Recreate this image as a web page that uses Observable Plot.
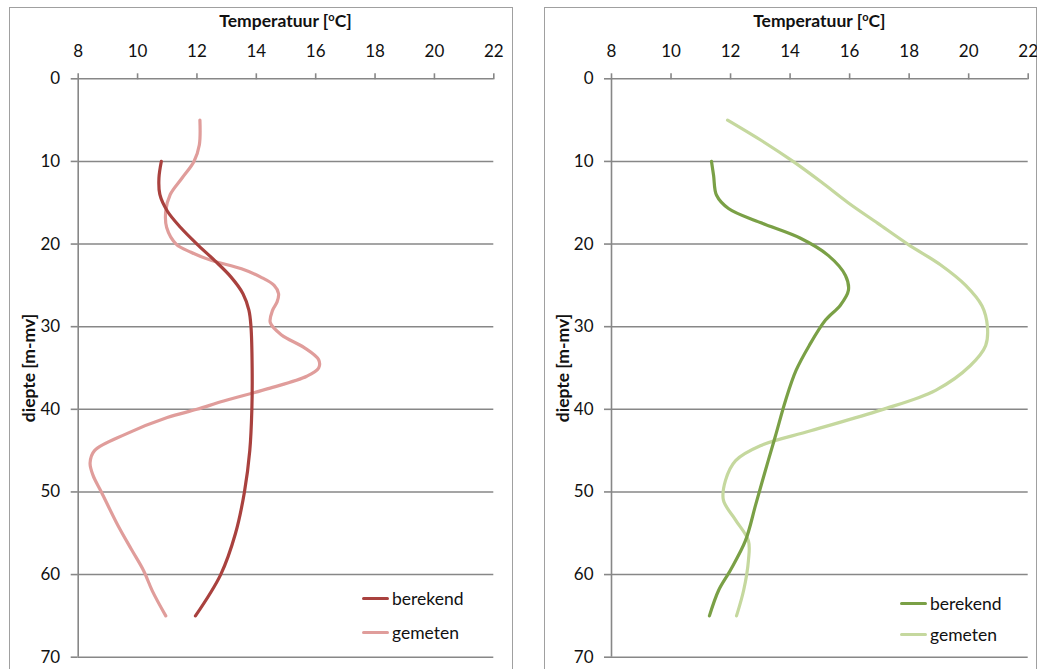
<!DOCTYPE html>
<html>
<head>
<meta charset="utf-8">
<script src="https://cdn.jsdelivr.net/npm/d3@7"></script>
<script src="https://cdn.jsdelivr.net/npm/@observablehq/plot@0.6"></script>
<style>
  html, body { margin: 0; padding: 0; background: #fff; overflow: hidden; }
  body { width: 1039px; height: 669px; position: relative; font-family: Lato, "Open Sans", sans-serif; }
  .frame { position: absolute; border: 1.5px solid #a0a0a0; box-sizing: border-box; }
  .panel { position: absolute; top: 0; }
  .panel svg { background: transparent !important; }
  .title { position: absolute; font-weight: bold; font-size: 17.5px; color: #111; transform: translateX(-50%); white-space: nowrap; }
  .title sup { font-size: 11px; vertical-align: 6px; line-height: 0; }
  .ylab { position: absolute; font-weight: bold; font-size: 17.5px; color: #111; transform: translate(-50%, -50%) rotate(-90deg); white-space: nowrap; }
  .leg { position: absolute; font-size: 17.5px; color: #111; display: flex; align-items: center; white-space: nowrap; }
  .leg .sw { display: inline-block; width: 27px; height: 3px; border-radius: 2px; margin-right: 3px; }
</style>
</head>
<body>
<script>
// ---- data ----
const xTicks = [8, 10, 12, 14, 16, 18, 20, 22];
const yTicks = [0, 10, 20, 30, 40, 50, 60, 70];
const seriesNames = ["berekend", "gemeten"];

// left panel
const leftBerekendDepth = [10, 12, 14, 16, 18, 20, 22, 24, 26, 28, 30, 35, 40, 45, 50, 55, 60, 65];
const leftBerekendTemp  = [10.8, 10.72, 10.75, 11.0, 11.45, 12.0, 12.6, 13.15, 13.55, 13.75, 13.82, 13.86, 13.85, 13.78, 13.6, 13.3, 12.8, 11.95];
const leftGemetenDepth = [5, 8, 10, 12, 14, 16, 18, 20, 21, 22, 23, 24, 25, 26, 27, 28, 29.5, 31, 32.5, 34, 35, 36, 37.5, 39, 40, 41, 43, 45, 46.5, 48, 50, 54, 57, 59.5, 62, 65];
const leftGemetenTemp  = [12.1, 12.08, 11.9, 11.5, 11.1, 10.95, 10.98, 11.3, 11.8, 12.5, 13.5, 14.15, 14.6, 14.75, 14.7, 14.55, 14.47, 14.85, 15.6, 16.1, 16.1, 15.7, 14.4, 12.9, 12.0, 11.0, 9.6, 8.55, 8.4, 8.5, 8.78, 9.33, 9.8, 10.2, 10.5, 10.95];

// right panel
const rightBerekendDepth = [10, 11.7, 14.1, 15.7, 17.4, 19.3, 21.4, 23.8, 25.6, 27.4, 29.2, 32.3, 35.3, 38.9, 43.2, 47.4, 51.6, 55.9, 59.5, 61.9, 65];
const rightBerekendTemp  = [11.36, 11.43, 11.53, 11.93, 13.0, 14.35, 15.29, 15.86, 15.96, 15.69, 15.19, 14.64, 14.2, 13.85, 13.51, 13.17, 12.84, 12.5, 11.99, 11.6, 11.29];
const rightGemetenDepth = [5, 7.5, 10, 12.5, 15, 17.5, 20, 22.5, 25, 27.5, 30, 32.3, 34.7, 37.7, 40.1, 42.6, 44.4, 46.2, 48.6, 51, 53.4, 55.9, 58.3, 61.9, 65];
const rightGemetenTemp  = [11.9, 13.05, 14.1, 15.05, 15.95, 16.95, 17.95, 19.05, 19.9, 20.45, 20.63, 20.57, 20.06, 18.89, 17.04, 14.69, 13.0, 12.17, 11.83, 11.76, 12.17, 12.6, 12.6, 12.44, 12.2];

const colors = {
  left:  ["#a9413e", "#e09d9b"],
  right: ["#7aa046", "#c5d89e"]
};

const toRows = (depths, temps) => depths.map((d, i) => ({d, t: temps[i]}));

const panels = [
  {key: "left",  frameLeft: 10,  svgWidth: 502, axisLeft: 77.7, axisRight: 493.3,
   ber: toRows(leftBerekendDepth, leftBerekendTemp), gem: toRows(leftGemetenDepth, leftGemetenTemp),
   legX: 362, legY: [598, 632], ylabX: 28},
  {key: "right", frameLeft: 545, svgWidth: 492, axisLeft: 611, axisRight: 1027.7,
   ber: toRows(rightBerekendDepth, rightBerekendTemp), gem: toRows(rightGemetenDepth, rightGemetenTemp),
   legX: 900, legY: [603, 634], ylabX: 562}
];

const H = 669, top0 = 78.3, bottom70 = 656.7;

for (const p of panels) {
  const frame = document.createElement("div");
  frame.className = "frame";
  frame.style.left = (p.frameLeft - 1) + "px";
  frame.style.top = "7px";
  frame.style.width = (p.key === "left" ? 504 : 493) + "px";
  frame.style.height = "700px";
  document.body.appendChild(frame);

  const [cBer, cGem] = colors[p.key];
  const chart = Plot.plot({
    width: p.svgWidth,
    height: H,
    marginTop: top0,
    marginBottom: H - bottom70,
    marginLeft: p.axisLeft - p.frameLeft,
    marginRight: p.frameLeft + p.svgWidth - p.axisRight,
    style: {fontFamily: "Lato, 'Open Sans', sans-serif", fontSize: "17px", background: "transparent", color: "#111"},
    x: {domain: [8, 22]},
    y: {domain: [0, 70], reverse: true},
    marks: [
      Plot.ruleY(yTicks, {stroke: "#878787", strokeWidth: 1.6}),
      Plot.ruleX([8], {y1: 0, y2: 70, stroke: "#878787", strokeWidth: 1.6}),
      Plot.axisX({anchor: "top", ticks: xTicks, tickSize: 6, tickPadding: 16, label: null, stroke: "#878787", strokeWidth: 1.6, color: "#111", fontSize: 17}),
      Plot.axisY({anchor: "left", ticks: yTicks, tickSize: 7, tickPadding: 11, label: null, stroke: "#878787", strokeWidth: 1.6, color: "#111", fontSize: 17}),
      Plot.line(p.gem, {x: "t", y: "d", stroke: cGem, strokeWidth: 3.2, curve: "catmull-rom", strokeLinecap: "round"}),
      Plot.line(p.ber, {x: "t", y: "d", stroke: cBer, strokeWidth: 3.2, curve: "catmull-rom", strokeLinecap: "round"})
    ]
  });
  const wrap = document.createElement("div");
  wrap.className = "panel";
  wrap.style.left = p.frameLeft + "px";
  wrap.appendChild(chart);
  document.body.appendChild(wrap);

  const title = document.createElement("div");
  title.className = "title";
  title.style.left = ((p.axisLeft + p.axisRight) / 2) + "px";
  title.style.top = "10px";
  title.innerHTML = "Temperatuur [<sup>o</sup>C]";
  document.body.appendChild(title);

  const ylab = document.createElement("div");
  ylab.className = "ylab";
  ylab.style.left = p.ylabX + "px";
  ylab.style.top = ((top0 + bottom70) / 2) + "px";
  ylab.textContent = "diepte [m-mv]";
  document.body.appendChild(ylab);

  seriesNames.forEach((name, i) => {
    const leg = document.createElement("div");
    leg.className = "leg";
    leg.style.left = p.legX + "px";
    leg.style.top = (p.legY[i] - 11) + "px";
    leg.style.height = "22px";
    const sw = document.createElement("span");
    sw.className = "sw";
    sw.style.background = i === 0 ? cBer : cGem;
    leg.appendChild(sw);
    leg.appendChild(document.createTextNode(name));
    document.body.appendChild(leg);
  });
}
</script>
</body>
</html>
